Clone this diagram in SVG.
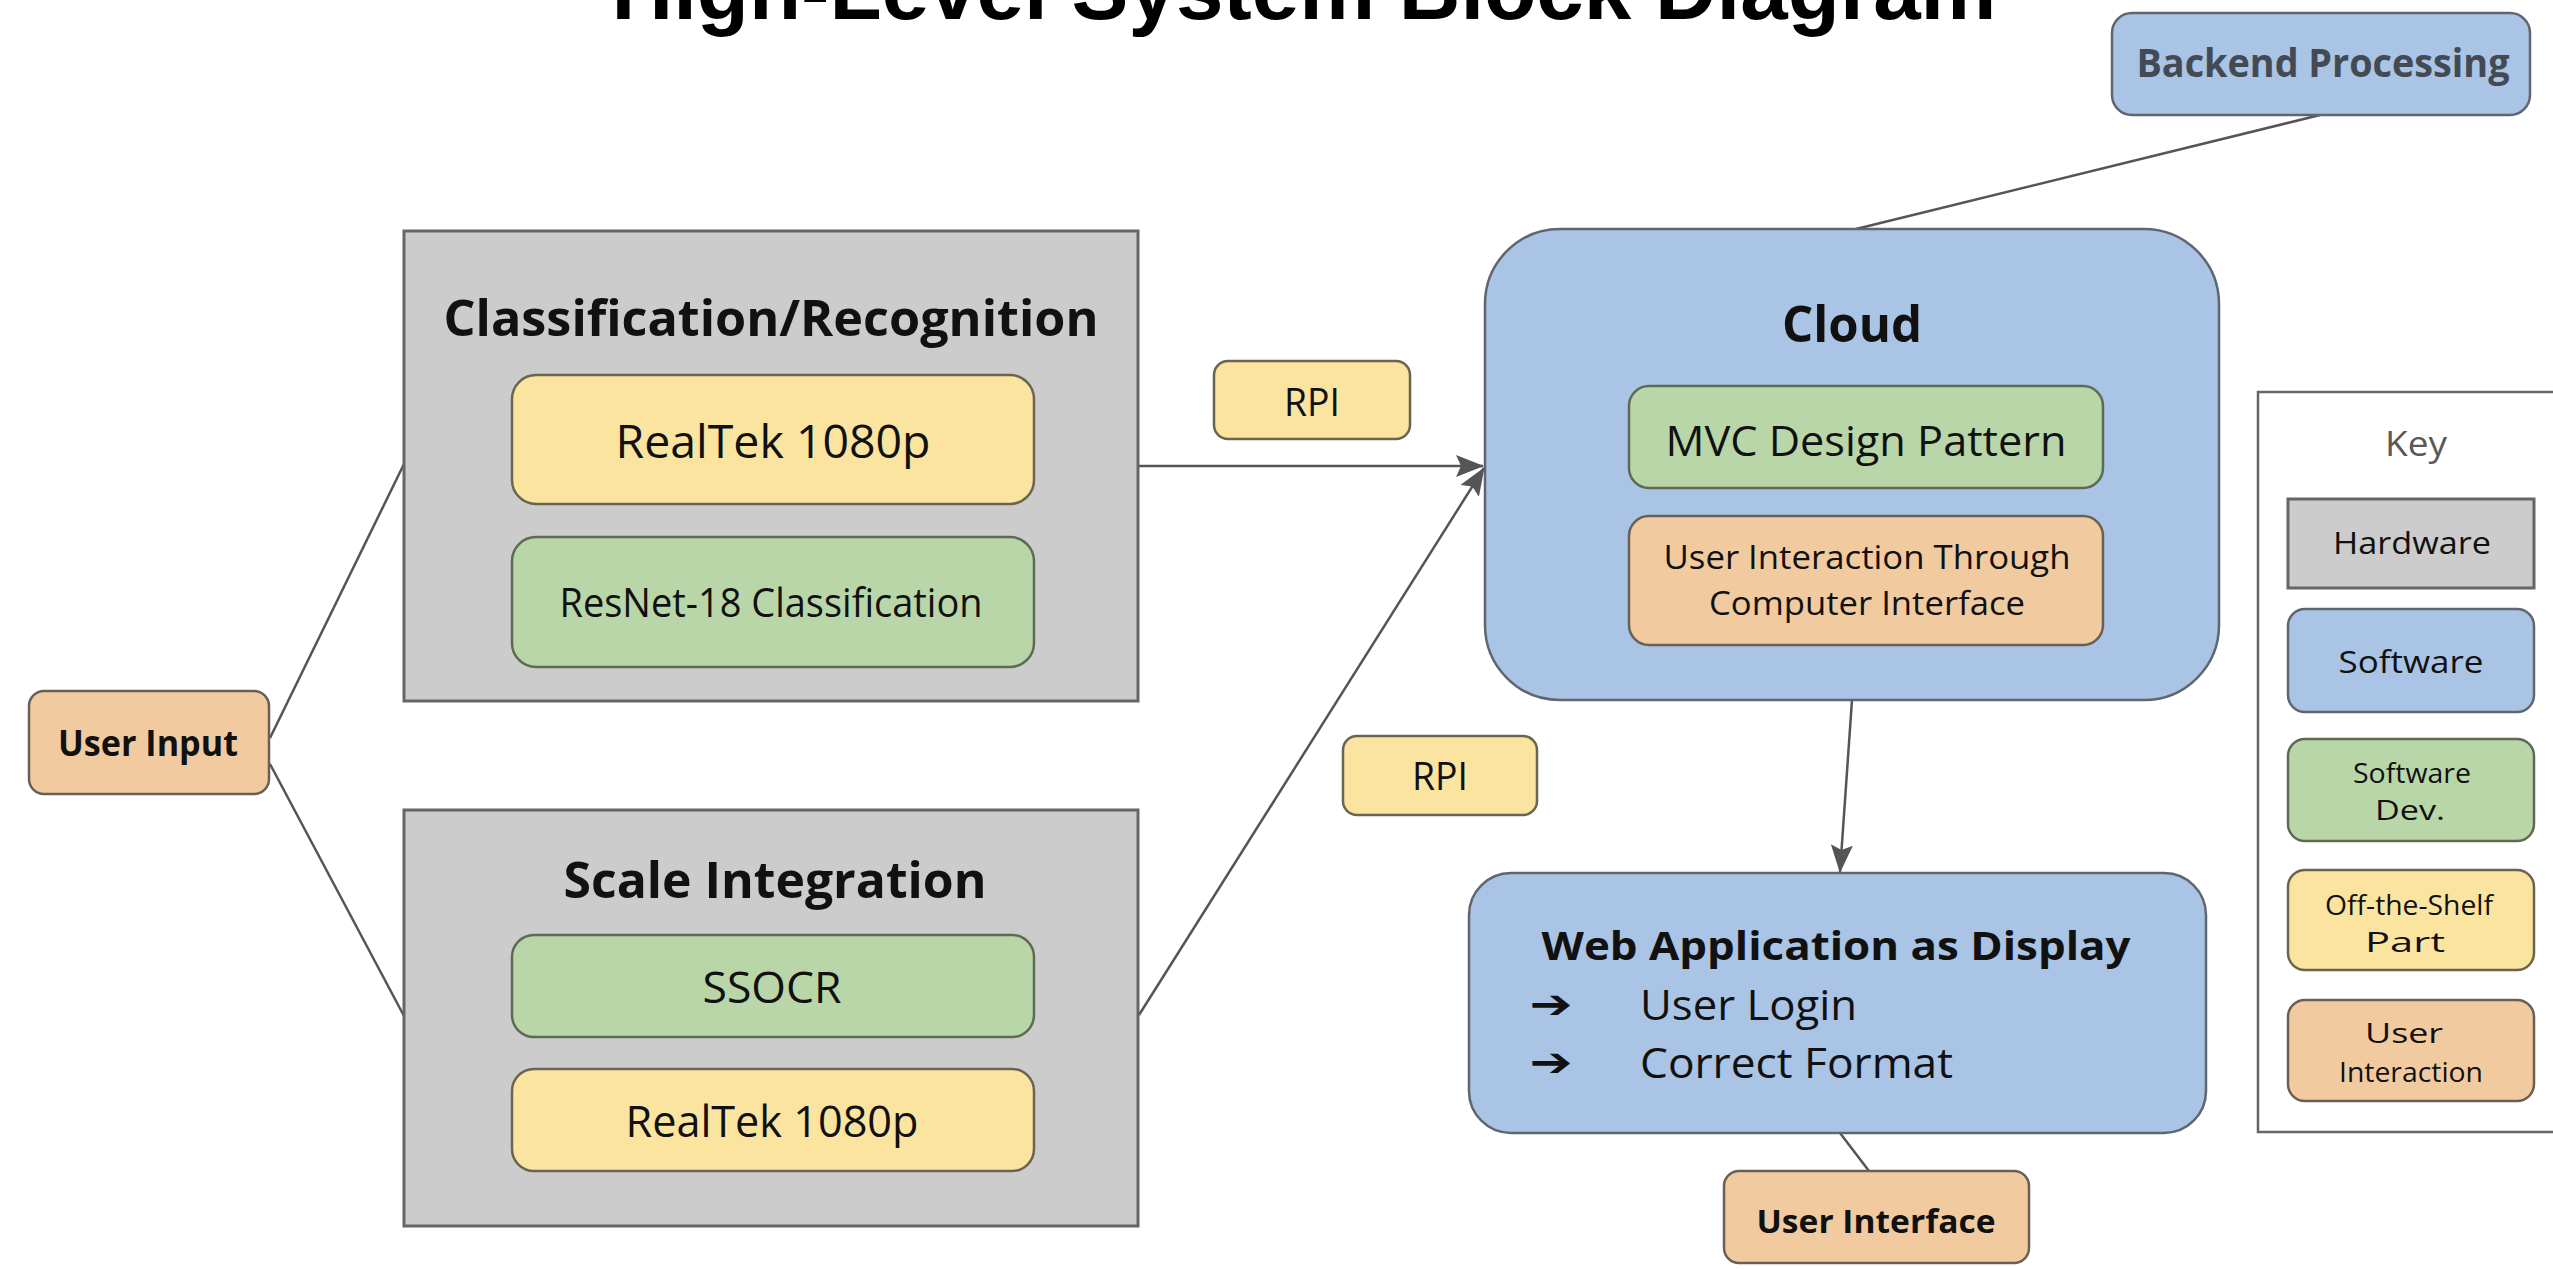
<svg xmlns="http://www.w3.org/2000/svg" width="2553" height="1269" viewBox="0 0 2553 1269">
<style>
text{font-family:"Open Sans","Noto Sans","DejaVu Sans",sans-serif;fill:#111;text-anchor:middle}
.b{font-weight:bold}
.hw{fill:#cccccc;stroke:#666;stroke-width:3}
.sw{fill:#a9c4e4;stroke:#5f6670;stroke-width:2.5}
.dev{fill:#b9d6a9;stroke:#5f6a55;stroke-width:2.5}
.ots{fill:#fae4a0;stroke:#6b6450;stroke-width:2.5}
.ui{fill:#f1cb9f;stroke:#6b5f55;stroke-width:2.5}
.conn line{stroke:#555;stroke-width:2.5;fill:none}
</style>
<defs>
<marker id="ah" markerWidth="12" markerHeight="10" refX="11" refY="5" orient="auto" markerUnits="userSpaceOnUse" viewBox="0 0 12 10">
<path d="M0,0 L12,5 L0,10 Z" fill="#555"/>
</marker>
<marker id="ah2" viewBox="0 0 28 22" refX="27" refY="11" markerWidth="28" markerHeight="22" orient="auto" markerUnits="userSpaceOnUse">
<path d="M0,0 L28,11 L0,22 L5,11 Z" fill="#555"/>
</marker>
</defs>

<text id="title" x="1304" y="19" class="b" style="font-family:'Liberation Sans',Arial,sans-serif;font-size:85px;fill:#000" textLength="1385" lengthAdjust="spacingAndGlyphs">High-Level System Block Diagram</text>

<g class="conn" id="connectors">
<line x1="270" y1="738" x2="404" y2="464"/>
<line x1="270" y1="764" x2="404" y2="1016"/>
<line x1="1138" y1="466" x2="1483" y2="466" marker-end="url(#ah2)"/>
<line x1="1139" y1="1015" x2="1484" y2="468" marker-end="url(#ah2)"/>
<line x1="2320" y1="115" x2="1856" y2="229"/>
<line x1="1852" y1="700" x2="1840" y2="872" marker-end="url(#ah2)"/>
<line x1="1840" y1="1133" x2="1869" y2="1171"/>
</g>

<g id="user-input">
<rect class="ui" x="29" y="691" width="240" height="103" rx="15"/>
<text class="b" x="148" y="756" font-size="35" textLength="180" lengthAdjust="spacingAndGlyphs">User Input</text>
</g>

<g id="classification">
<rect class="hw" x="404" y="231" width="734" height="470"/>
<text class="b" x="771" y="336" font-size="50" textLength="655" lengthAdjust="spacingAndGlyphs">Classification/Recognition</text>
</g>
<g id="realtek1">
<rect class="ots" x="512" y="375" width="522" height="129" rx="24"/>
<text x="773" y="458" font-size="45" textLength="315" lengthAdjust="spacingAndGlyphs">RealTek 1080p</text>
</g>
<g id="resnet">
<rect class="dev" x="512" y="537" width="522" height="130" rx="24"/>
<text x="771" y="617" font-size="41" textLength="423" lengthAdjust="spacingAndGlyphs">ResNet-18 Classification</text>
</g>

<g id="scale">
<rect class="hw" x="404" y="810" width="734" height="416"/>
<text class="b" x="775" y="898" font-size="50" textLength="423" lengthAdjust="spacingAndGlyphs">Scale Integration</text>
</g>
<g id="ssocr">
<rect class="dev" x="512" y="935" width="522" height="102" rx="22"/>
<text x="772" y="1003" font-size="43" textLength="139" lengthAdjust="spacingAndGlyphs">SSOCR</text>
</g>
<g id="realtek2">
<rect class="ots" x="512" y="1069" width="522" height="102" rx="22"/>
<text x="772" y="1137" font-size="43" textLength="293" lengthAdjust="spacingAndGlyphs">RealTek 1080p</text>
</g>

<g id="rpi1">
<rect class="ots" x="1214" y="361" width="196" height="78" rx="14"/>
<text x="1312" y="416" font-size="39" textLength="56" lengthAdjust="spacingAndGlyphs">RPI</text>
</g>
<g id="rpi2">
<rect class="ots" x="1343" y="736" width="194" height="79" rx="14"/>
<text x="1440" y="790" font-size="39" textLength="56" lengthAdjust="spacingAndGlyphs">RPI</text>
</g>

<g id="cloud">
<rect class="sw" x="1485" y="229" width="734" height="471" rx="75"/>
<text class="b" x="1852" y="342" font-size="50" textLength="140" lengthAdjust="spacingAndGlyphs">Cloud</text>
</g>
<g id="mvc">
<rect class="dev" x="1629" y="386" width="474" height="102" rx="20"/>
<text x="1866" y="456" font-size="42" textLength="401" lengthAdjust="spacingAndGlyphs">MVC Design Pattern</text>
</g>
<g id="cloud-ui">
<rect class="ui" x="1629" y="516" width="474" height="129" rx="20"/>
<text x="1867" y="569" font-size="33" textLength="407" lengthAdjust="spacingAndGlyphs">User Interaction Through</text>
<text x="1867" y="615" font-size="33" textLength="316" lengthAdjust="spacingAndGlyphs">Computer Interface</text>
</g>

<g id="backend">
<rect class="sw" x="2112" y="13" width="418" height="102" rx="20"/>
<text class="b" x="2323" y="77" font-size="40" style="fill:#434a54" textLength="373" lengthAdjust="spacingAndGlyphs">Backend Processing</text>
</g>

<g id="webapp">
<rect class="sw" x="1469" y="873" width="737" height="260" rx="42"/>
<text class="b" x="1836" y="960" font-size="40" textLength="589" lengthAdjust="spacingAndGlyphs">Web Application as Display</text>
<text x="1551" y="1018" font-size="40" style="font-family:'DejaVu Sans',sans-serif;font-weight:bold" textLength="43" lengthAdjust="spacingAndGlyphs">➔</text>
<text x="1640" y="1020" font-size="42" style="text-anchor:start" textLength="217" lengthAdjust="spacingAndGlyphs">User Login</text>
<text x="1551" y="1076" font-size="40" style="font-family:'DejaVu Sans',sans-serif;font-weight:bold" textLength="43" lengthAdjust="spacingAndGlyphs">➔</text>
<text x="1640" y="1078" font-size="42" style="text-anchor:start" textLength="313" lengthAdjust="spacingAndGlyphs">Correct Format</text>
</g>

<g id="user-interface">
<rect class="ui" x="1724" y="1171" width="305" height="92" rx="15"/>
<text class="b" x="1876" y="1233" font-size="33" textLength="239" lengthAdjust="spacingAndGlyphs">User Interface</text>
</g>

<g id="key">
<rect x="2258" y="392" width="310" height="740" fill="#fff" stroke="#666" stroke-width="2.5"/>
<text x="2416" y="456" font-size="34" style="fill:#595959" textLength="62" lengthAdjust="spacingAndGlyphs">Key</text>
<rect class="hw" x="2288" y="499" width="246" height="89"/>
<text x="2412" y="554" font-size="31" textLength="158" lengthAdjust="spacingAndGlyphs">Hardware</text>
<rect class="sw" x="2288" y="609" width="246" height="103" rx="17"/>
<text x="2411" y="673" font-size="31" textLength="145" lengthAdjust="spacingAndGlyphs">Software</text>
<rect class="dev" x="2288" y="739" width="246" height="102" rx="17"/>
<text x="2412" y="783" font-size="28" textLength="118" lengthAdjust="spacingAndGlyphs">Software</text>
<text x="2410" y="820" font-size="28" textLength="70" lengthAdjust="spacingAndGlyphs">Dev.</text>
<rect class="ots" x="2288" y="870" width="246" height="100" rx="17"/>
<text x="2409" y="915" font-size="28" textLength="168" lengthAdjust="spacingAndGlyphs">Off-the-Shelf</text>
<text x="2405" y="952" font-size="28" textLength="80" lengthAdjust="spacingAndGlyphs">Part</text>
<rect class="ui" x="2288" y="1000" width="246" height="101" rx="17"/>
<text x="2404" y="1043" font-size="28" textLength="78" lengthAdjust="spacingAndGlyphs">User</text>
<text x="2411" y="1082" font-size="28" textLength="144" lengthAdjust="spacingAndGlyphs">Interaction</text>
</g>
</svg>
